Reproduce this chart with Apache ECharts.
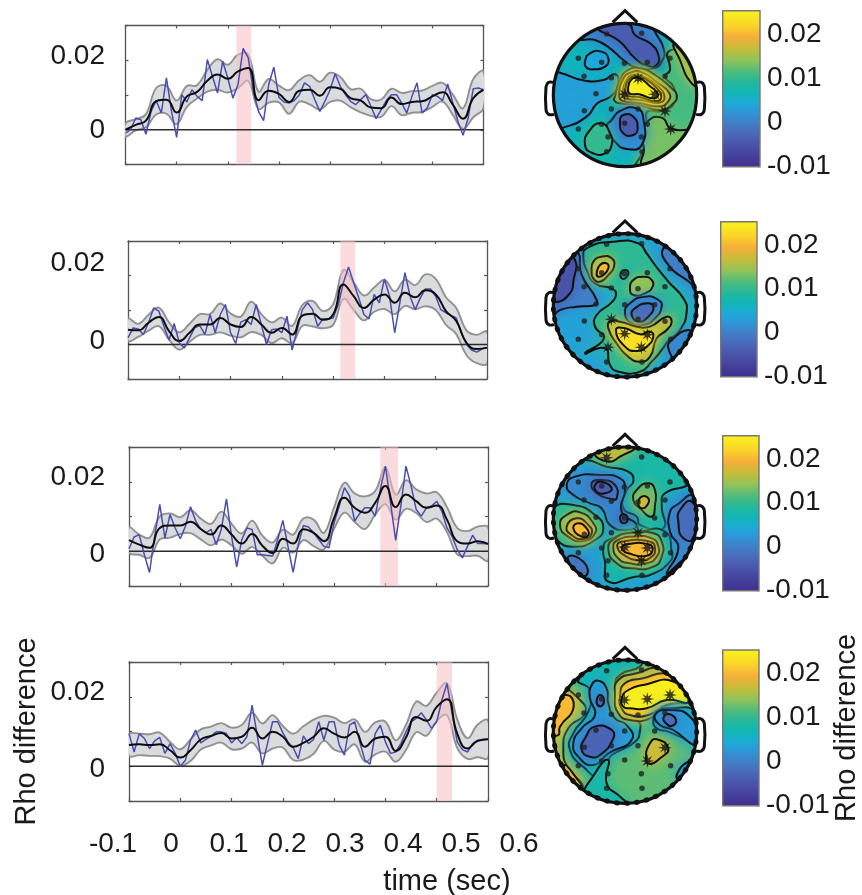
<!DOCTYPE html>
<html><head><meta charset="utf-8">
<style>html,body{margin:0;padding:0;background:#fff}#c{width:862px;height:895px}</style>
<script src="https://cdn.jsdelivr.net/npm/echarts@6/dist/echarts.min.js"></script>
</head><body><div id="c"></div>
<script>
// ---- Time courses (values in units of 0.001 rho) ----
const meanTimes=[-0.1,-0.08,-0.06,-0.04,-0.02,0,0.02,0.04,0.06,0.08,0.1,0.12,0.14,0.16,0.18,0.2,0.22,0.24,0.26,0.28,0.3,0.32,0.34,0.36,0.38,0.4,0.42,0.44,0.46,0.48,0.5,0.52,0.54,0.56,0.58,0.6];
const mean1=[0,1.4,2.6,8.2,8.6,5,9.6,10.9,14.1,15.9,14.7,16.8,17.8,8.5,11.2,10.3,8,11.2,11.5,9.8,12.2,11.8,9.1,8.4,6.4,6.2,9.3,7.4,8,8.2,9.6,10.8,7.2,3.2,9.1,11.5];
const sem1=[1.9,1.6,1.9,3.8,4,3.4,3,1.9,3.1,4.4,4,4.8,3.8,2.5,3.4,2.4,3.4,3.1,4.2,4,4.2,3.4,2.6,3.4,2.4,2.5,2.5,3.2,3.1,3.1,3,2.7,2.9,3,5.5,5.3];
const raw1=[-1,0,3.4,2.9,-1.3,5.3,8.4,4.8,14.9,5.3,-2.2,10.1,8,11.5,9.6,8.4,20.2,15.4,10.6,19.7,14.9,9.1,13,23.4,20.7,11.1,5.3,2.6,13,18,9.3,8,7.7,8.4,10.1,13.5,12.5,8.7,5.3,8.2,11.5,16.1,12.5,10.1,8.2,7.2,8.7,10.1,6.7,3.2,5.8,8.4,10.1,10.1,7.7,4.8,9.6,13.5,4.8,6.3,10.1,9.6,8.4,13.2,7.7,2.4,-1.6,3.4,11.8,12,11.5];
const mean2=[4.3,4.1,6.3,8,3.9,1,3.4,5.8,5.8,7.7,5.8,5.1,8,5.8,3.4,4.8,2.9,8.4,8.9,7.2,8.7,17.4,14,10.6,13,14.5,12.1,15,13.7,15.7,14.5,9.7,6.8,.5,-1.3,-.9];
const sem2=[3.2,1.9,2.3,2.7,2.5,2.5,2.6,3,3,4.2,3.2,3,4.4,3,3,3,2.5,3,3.7,2.5,3,4.2,4,3.6,3.5,4.2,3.3,3.8,3.5,4.6,4.5,4,3.8,3.6,4.1,4.6];
const raw2=[1.9,4.8,4.5,2.9,6.3,10.6,9.7,5.3,1.3,6.1,.5,-1,1.9,4.8,5.5,2.9,8.7,3.4,8.7,11.6,3.4,.3,6.5,7.2,5.8,11.6,5.8,0,4.3,4.5,3.4,8.2,-1.6,4.3,10.1,12.1,10.1,5.3,7.4,7.4,7.7,11.6,17.9,22.5,17.9,13.5,8.7,7.4,14.5,12.1,19,14,3.4,12.1,20.8,14,10.1,13.5,16.1,16.1,14,10.1,9.2,8.4,7.7,3.4,0,-1.6,-2.2,-1.3,-.9];
const mean3=[3.2,1.9,1,6.7,7.4,7.4,8.5,6.4,4.8,7.4,4.8,2.2,5,1.6,-.5,3.6,2.2,6.3,5.3,2.9,9.6,15.4,12.5,11.1,13.9,18.8,12.7,16.3,14.4,12.5,13.2,9.1,2.9,2.2,2.9,2.1];
const sem3=[3.6,2.9,2.9,3.3,3.5,2.4,3.3,3,3.1,4,3.1,2.9,3.8,2.9,3,2.6,2.6,3.1,3.8,2.4,3.1,4.3,4.1,4.7,3.4,5.3,3.6,4.1,3.4,4.1,3.8,3.6,3.8,3.6,4.2,4.8];
const raw3=[.7,4.1,4.8,-1,-6.1,4.3,13.5,3.8,10.6,6.7,3.6,7.2,12.8,8.7,6.3,5.3,6.3,1.9,6.3,15.1,4.3,-4.5,3.4,6.7,6.3,-1,-1,-1.2,-1.4,3.4,8.9,1.4,-6.1,1.9,7.4,7,5.3,3.4,1.4,1,8.2,13,18.3,15.9,8.7,10.9,12.5,12.5,10.1,17.8,24.5,13.9,3.1,13,24.5,18.8,12,10.1,12.5,13,14.4,11.5,6.7,4.3,.5,-1.9,1.4,4.6,2.2,2.2,2.1];
const mean4=[6.1,6.3,6.1,6.3,4.6,2.5,4.6,7.7,8.7,9.6,8,8.5,11.1,8,9.9,8.5,5.6,6.7,8.5,10.9,9.4,8.3,9.9,5.6,8,8.5,4.4,8.3,14.2,13.1,17.1,19.3,9.4,5.1,7.3,7.8];
const sem4=[3.1,3.1,3.1,3.4,2.4,2.4,3.1,2.9,2.7,2.8,3.1,3.4,4.3,4.3,4.8,3.1,3.8,4.8,4.9,3.6,4.6,4.1,3.6,4.3,4.6,4.3,3.1,3.6,4.4,4.3,4.1,4.6,4.1,3,4.7,5.4];
const raw4=[9.4,4.1,9.4,8,5.1,7.3,8.3,3.7,6.5,3.7,0,1.7,7.5,10.4,6.7,7.7,8.7,9.9,9.9,9.4,6.7,8.3,6.5,8.5,17.6,8.9,.3,6.5,12.8,12.8,9.6,7,5.4,2.2,8.7,6.5,7.7,12.8,7.5,12.8,12.8,6.1,3.2,11.8,12.8,7,1.7,.6,9.4,11.8,7,3.7,4.1,6.5,9.9,12.8,13.8,15.4,13.3,10.9,12.8,19,23.8,15.2,7,4.8,4.1,6.5,7.5,7.7,7.8];
const means=[mean1,mean2,mean3,mean4], sems=[sem1,sem2,sem3,sem4], raws=[raw1,raw2,raw3,raw4];
const windowStart=[0.1168,0.314,0.39,0.5];
const windowEnd=[0.146,0.343,0.4247,0.53];
const xTicks=[-0.1,0,0.1,0.2,0.3,0.4,0.5,0.6];
const yTickLabels=[0,0.02];
const cbTicks=[-0.01,0,0.01,0.02];

// ---- Scalp maps: electrode layout and filled contours [level (0.001 rho), x,y, x,y ...], in map units ----
const electrodes=[[200,87],[305,85],[115,160],[185,172],[253,175],[322,172],[390,160],[132,214],[214,218],[294,220],[375,214],[168,266],[254,268],[344,268],[133,317],[214,312],[294,312],[375,318],[115,372],[185,358],[254,355],[322,358],[392,372],[204,396],[304,396],[200,440],[306,440]];
const stars=[[9,12,13,17,22],[15,20,21,23,24],[0,16,20,21,24],[4,5,6,17,21]];
const mapCentreY=[270,271,281,275];
const sheet=[0,0,510,0,510,540,0,540];
const map1=[
 [6.5,sheet],
 [3.3,[30,200,60,203,130,226,190,225,225,208,235,232,215,272,172,295,140,335,70,368,20,375,10,280]],
 [4,[135,170,150,145,185,140,205,160,195,185,160,193,140,188]],
 [1,[120,100,165,105,210,130,250,165,290,188,340,190,365,170,372,135,350,90,325,55,270,30,180,40]],
 [-4,[175,68,240,110,285,160,322,182,350,180,355,150,330,115,285,90,265,58]],
 [11,[385,140,390,195,375,215,400,245,405,290,365,318,322,320,318,350,302,395,310,432,290,490,400,480,490,380,490,230,440,150]],
 [15,[405,110,420,165,455,235,480,240,480,110]],
 [13,[322,350,365,338,395,372,470,378,420,430,345,470,305,480,312,432,305,395]],
 [11,[225,275,240,225,265,195,300,190,345,210,395,250,410,270,400,295,360,315,300,300,240,295,222,285]],
 [15,[238,272,250,222,275,202,305,202,350,232,388,265,382,292,355,304,300,294,250,288]],
 [19,[248,268,262,222,282,210,305,212,345,238,372,268,362,292,300,284,255,280]],
 [23,[256,260,268,222,290,214,312,220,348,248,364,275,348,288,300,276,262,272]],
 [25,[264,254,274,224,298,220,328,242,354,268,340,280,298,268,270,266]],
 [2,[215,345,240,318,290,310,310,340,305,420,260,432,225,410,200,365]],
 [-4,[240,350,250,330,280,335,293,370,280,390,250,385]],
 [10,[135,420,150,375,185,355,210,385,215,420,195,445,160,445]]
];
const map2=[
 [3.5,sheet],
 [9.5,[140,100,220,80,295,85,320,115,345,150,385,200,430,250,440,290,420,345,385,378,365,405,335,440,300,470,235,470,210,450,195,400,135,415,192,370,165,335,170,300,215,262,228,240,218,222,165,205,140,165,130,130]],
 [6,[242,175,253,165,265,172,258,188,245,190]],
 [0,[110,110,125,180,170,255,165,270,110,275,60,285,30,305,10,200,60,130]],
 [-5,[105,135,100,200,90,235,45,262,25,240,40,170,70,130]],
 [0,[370,100,385,150,440,195,470,210,480,120,420,85]],
 [1,[395,375,385,400,410,430,450,370,445,345]],
 [14,[155,170,160,140,185,125,215,130,222,155,205,180,180,200,160,190]],
 [20,[170,175,180,150,200,145,205,160,190,180,175,185]],
 [14,[270,220,280,195,310,185,335,195,338,215,315,235,280,240]],
 [2,[255,295,270,265,315,245,355,255,365,275,345,310,310,330,275,325]],
 [-2,[275,300,285,280,320,265,340,275,325,305,295,320]],
 [16,[205,340,210,320,240,320,290,335,330,335,380,305,395,320,380,345,350,370,330,425,300,440,265,425,230,385]],
 [23,[228,345,255,340,300,358,330,350,340,365,320,395,290,408,255,395]]
];
const map3=[
 [3,sheet],
 [8,[100,125,135,105,200,125,265,140,280,170,260,195,250,250,290,275,300,300,370,310,365,240,375,205,450,170,440,100,350,60,200,50]],
 [16,[165,85,215,70,260,60,290,65,240,95,205,110]],
 [1,[80,180,105,155,180,150,240,160,255,190,245,260,290,300,260,315,210,300,185,250,150,235,100,210]],
 [-1,[155,175,180,165,225,180,230,220,215,222,170,205]],
 [-4,[165,180,185,170,215,190,195,205,170,200]],
 [-6,[240,280,250,268,263,282,252,295]],
 [12,[280,225,290,195,325,175,345,195,345,240,335,275,300,250]],
 [17,[295,235,305,215,325,220,322,240,305,250]],
 [9,[40,250,100,240,165,270,190,310,165,345,100,365,50,345,30,310]],
 [13,[60,300,80,270,120,262,160,295,165,325,130,348,85,335]],
 [17,[80,305,110,280,145,300,155,325,130,342,95,330]],
 [20,[100,310,115,295,140,310,145,330,125,335]],
 [7,[190,370,205,345,300,320,375,320,395,380,390,410,330,450,285,455,205,470,195,410]],
 [10,[205,370,225,340,265,325,340,325,365,350,365,395,340,425,280,430,230,415]],
 [14,[220,365,235,345,280,335,335,340,355,365,350,395,320,415,270,415,235,400]],
 [18,[232,365,245,350,330,350,345,370,335,395,300,405,255,392]],
 [20,[245,370,260,358,325,358,338,375,320,392,265,385]],
 [1,[410,240,460,215,490,330,400,430,380,445,415,370,390,320,390,260]],
 [-2,[415,290,420,255,455,230,480,300,470,340,430,340]],
 [-1,[85,395,130,410,140,450,105,440]]
];
const map4=[
 [12,sheet],
 [15,[60,150,120,180,135,220,85,265,70,330,85,385,130,440,100,450,30,340,20,220]],
 [20,[30,200,80,165,100,205,60,260,55,285,30,280]],
 [19,[75,375,110,415,125,440,85,420]],
 [7,[115,120,190,70,300,60,300,80,240,105,225,140,235,190,250,225,295,245,300,270,285,305,215,345,205,360,170,405,135,385,90,330,100,280,145,215,150,150]],
 [3,[155,135,175,122,200,145,205,190,225,235,260,255,275,300,205,340,160,375,115,350,100,310,125,265,165,225,150,175]],
 [-3,[135,295,165,260,215,270,220,295,180,345,150,350,125,330]],
 [-3,[170,180,180,165,192,180,185,198,173,195]],
 [14,[225,165,235,120,290,100,360,85,395,115,440,160,450,175,370,200,330,235,270,240,235,220]],
 [19,[240,170,255,130,310,115,375,100,410,120,450,180,380,195,325,225,270,225,245,205]],
 [25,[245,175,265,150,310,135,400,125,445,185,380,180,320,205,270,205,250,200]],
 [6,[340,240,350,220,385,205,470,220,490,320,420,290,385,275,350,265]],
 [3,[345,225,385,210,450,230,490,310,470,320,400,270,360,255]],
 [-2,[370,235,385,222,408,240,395,258,378,250]],
 [17,[318,355,330,310,350,298,385,325,360,355,330,372]],
 [3,[410,405,445,365,470,370,440,410,420,420]],
 [8,[165,400,205,360,200,430,240,470,270,500,140,470]]
];
const maps=[map1,map2,map3,map4];
const palette=['#40318f','#443a98','#4a52a8','#4a68b8','#3f80c8','#2e95d8','#1ea9d8','#12b5b8','#1fb8a0','#4cbb7e','#8fc35a','#c5bd3a','#f7ae3a','#fad32a','#f8ee1e','#f8ee1e'];
const paletteStops=[0,.053,.138,.213,.287,.35,.405,.47,.53,.606,.68,.755,.83,.9,.98,1];
const cbMin=-0.0102, cbMax=0.0253;

// ---- Layout ----
const panelRect=[[125.5,25.5,358,139],[128,241,359,138],[129,447,359,139],[129,662,359,139]];
const labelY=[[130,56],[341,263],[554,477],[769,692]]; // hand-placed rows of "0" and "0.02"
const cbRect=[[722.7,10.7,37.3,156],[720.7,221.7,36.3,155],[722.7,435.7,36.3,155],[722.7,650,36.3,155.7]];
const mapTop=[5,215,425,640];

function colourAt(t){
  t=Math.max(0,Math.min(1,t));
  for(let i=1;i<paletteStops.length;i++){
    if(t<=paletteStops[i]){
      const f=(t-paletteStops[i-1])/(paletteStops[i]-paletteStops[i-1]);
      return echarts.color.lerp(f,[palette[i-1],palette[i]]);
    }
  }
  return palette[palette.length-1];
}
const levelColour=m=>colourAt((m/1000-cbMin)/(cbMax-cbMin));

const grids=[],xAxes=[],yAxes=[],series=[];
const TXT='#1a1a1a',FONT='Liberation Sans',FS=28,FRAME='#555';
function grid(r){grids.push({left:r[0],top:r[1],width:r[2],height:r[3],containLabel:false});return grids.length-1;}
const hidden=(g,min,max,extra)=>Object.assign({type:'value',gridIndex:g,min,max,show:false},extra||{});
const rawTimes=Array.from({length:raws[0].length},(_,i)=>+(-0.1+i*0.01).toFixed(2));

means.forEach((mean,p)=>{
  const r=panelRect[p], g=grid(r), lg=grid(r);
  const xa=xAxes.length; 
  const frameAxis=(pos)=>({type:'value',gridIndex:g,min:-0.1,max:0.6,position:pos,
    axisLine:{onZero:false,lineStyle:{color:FRAME,width:1.3}},
    axisTick:{show:true,inside:true,length:3,customValues:xTicks,lineStyle:{color:FRAME,width:1.2}},
    axisLabel:{show:false},splitLine:{show:false}});
  xAxes.push(frameAxis('bottom'),frameAxis('top'));
  const ya=yAxes.length;
  const yFrame=(pos)=>({type:'value',gridIndex:g,min:-0.01,max:0.03,interval:0.01,position:pos,
    axisLine:{onZero:false,lineStyle:{color:FRAME,width:1.3}},
    axisTick:{show:true,inside:true,length:3,lineStyle:{color:FRAME,width:1.2}},
    axisLabel:{show:false},splitLine:{show:false}});
  const left=yFrame('left');
  if(p===3){Object.assign(left,{name:'Rho difference',nameLocation:'middle',nameGap:88,nameRotate:90,nameMoveOverlap:false,
    nameTextStyle:{color:TXT,fontFamily:FONT,fontSize:29}});}
  yAxes.push(left,yFrame('right'));
  // label-only axis: the printed labels are spaced differently from the ticks
  const perUnit=(labelY[p][0]-labelY[p][1])/0.02;
  const lmax=(labelY[p][0]-r[1])/perUnit, lmin=(labelY[p][0]-(r[1]+r[3]))/perUnit;
  xAxes.push(hidden(lg,-0.1,0.6));
  yAxes.push({type:'value',gridIndex:lg,min:lmin,max:lmax,position:'left',
    axisLine:{show:false,onZero:false},axisTick:{show:false},splitLine:{show:false},
    axisLabel:{show:true,customValues:yTickLabels,margin:r[0]-105,color:TXT,fontFamily:FONT,fontSize:FS,
      formatter:v=>String(v)}});
  const base={xAxisIndex:xa,yAxisIndex:ya,silent:true};
  const hi=meanTimes.map((t,i)=>[t,(mean[i]+sems[p][i])/1000]);
  const lo=meanTimes.map((t,i)=>[t,(mean[i]-sems[p][i])/1000]);
  series.push(Object.assign({},base,{type:'custom',z:2,clip:true,data:[[meanTimes[0],0]],
    renderItem:(ps,api)=>({type:'polygon',
      shape:{points:hi.concat(lo.slice().reverse()).map(c=>api.coord(c)),smooth:0.4},
      style:{fill:'#dadbdc',stroke:'#909192',lineWidth:1.9}})}));
  series.push(Object.assign({},base,{type:'custom',z:3,clip:true,data:[[windowStart[p],windowEnd[p]]],
    renderItem:(ps,api)=>{
      const a=api.coord([api.value(0),0.03]),b=api.coord([api.value(1),-0.01]);
      return {type:'rect',shape:{x:a[0],y:a[1],width:b[0]-a[0],height:b[1]-a[1]},style:{fill:'rgba(248,190,195,0.55)'}};
    }}));
  series.push(Object.assign({},base,{type:'line',z:4,symbol:'none',data:[[-0.1,0],[0.6,0]],lineStyle:{color:'#2b2b2b',width:1.7}}));
  series.push(Object.assign({},base,{type:'line',z:5,symbol:'none',data:raws[p].map((v,i)=>[rawTimes[i],v/1000]),lineStyle:{color:'#4a4db0',width:1.5}}));
  series.push(Object.assign({},base,{type:'line',z:6,symbol:'none',smooth:0.5,data:mean.map((v,i)=>[meanTimes[i],v/1000]),lineStyle:{color:'#0d0d0d',width:2}}));

  // ---- scalp map ----
  const mg=grid([540,mapTop[p],170,180]);
  const mx=xAxes.length,my=yAxes.length;
  xAxes.push(hidden(mg,0,510)); yAxes.push(hidden(mg,0,540,{inverse:true}));
  const mbase={xAxisIndex:mx,yAxisIndex:my,silent:true};
  const cy=mapCentreY[p], dy=cy-270;
  const contours=maps[p];
  series.push(Object.assign({},mbase,{type:'custom',z:2,clip:false,
    data:contours.map((c,i)=>[i,0]),
    renderItem:(ps,api)=>{
      const c=contours[ps.dataIndex], pts=[];
      for(let k=0;k<c[1].length;k+=2)pts.push(api.coord([c[1][k],c[1][k+1]]));
      const ctr=api.coord([255,cy]), rad=api.size([215,0])[0], col=levelColour(c[0]);
      return {type:'polygon',shape:{points:pts,smooth:c[1]===sheet?0:0.55},
        clipPath:{type:'circle',shape:{cx:ctr[0],cy:ctr[1],r:rad}},
        style:{fill:col,stroke:'#111',lineWidth:2,shadowBlur:12,shadowColor:col}};
    }}));
  series.push(Object.assign({},mbase,{type:'custom',z:3,clip:false,data:[[255,cy]],
    renderItem:(ps,api)=>{
      const c=api.coord([255,cy]), rad=api.size([215,0])[0];
      const pl=(a,smooth)=>({type:'polyline',shape:{points:a.map(q=>api.coord([q[0],q[1]+dy])),smooth},style:{fill:null,stroke:'#111',lineWidth:3}});
      const kids=[
        {type:'circle',shape:{cx:c[0],cy:c[1],r:rad},style:{fill:null,stroke:'#111',lineWidth:3.2}},
        pl([[218,52],[255,17],[292,52]],0),
        pl([[40,232],[26,232],[18,246],[18,314],[26,328],[42,328]],0.4),
        pl([[470,232],[484,232],[493,246],[493,314],[484,328],[468,328]],0.4)
      ];
      if(p>0)kids.push({type:'circle',shape:{cx:c[0],cy:c[1],r:rad},style:{fill:null,stroke:'#111',lineWidth:5,lineDash:[1,9],lineCap:'round'}});
      return {type:'group',children:kids};
    }}));
  const isStar=new Set(stars[p]);
  series.push(Object.assign({},mbase,{type:'scatter',z:4,symbol:'circle',symbolSize:5.5,itemStyle:{color:'#222'},
    data:electrodes.filter((e,i)=>!isStar.has(i)).map(e=>[e[0],e[1]+dy])}));
  series.push(Object.assign({},mbase,{type:'scatter',z:4,symbolSize:14,
    symbol:'path://M0 -10L1.4 -3.4L7 -7L3.4 -1.4L10 0L3.4 1.4L7 7L1.4 3.4L0 10L-1.4 3.4L-7 7L-3.4 1.4L-10 0L-3.4 -1.4L-7 -7L-1.4 -3.4Z',
    itemStyle:{color:'#111'},data:stars[p].map(i=>[electrodes[i][0],electrodes[i][1]+dy])}));

  // ---- colour bar ----
  const cg=grid(cbRect[p]);
  const cx=xAxes.length,cyA=yAxes.length;
  xAxes.push(hidden(cg,0,1));
  yAxes.push({type:'value',gridIndex:cg,min:cbMin,max:cbMax,position:'right',
    axisLine:{show:false,onZero:false},splitLine:{show:false},
    axisTick:{show:true,inside:true,length:3,customValues:cbTicks,lineStyle:{color:'#333',width:1.3}},
    axisLabel:{show:true,customValues:cbTicks,margin:7,padding:[0,0,12,0],color:TXT,fontFamily:FONT,fontSize:FS,formatter:v=>String(v)}});
  series.push({type:'custom',xAxisIndex:cx,yAxisIndex:cyA,silent:true,z:2,clip:false,data:[[0,cbMin]],
    renderItem:(ps,api)=>{
      const a=api.coord([0,cbMax]),b=api.coord([1,cbMin]);
      return {type:'rect',shape:{x:a[0],y:a[1],width:b[0]-a[0],height:b[1]-a[1]},
        style:{stroke:'#777',lineWidth:1.4,fill:{type:'linear',x:0,y:1,x2:0,y2:0,
          colorStops:palette.map((c,i)=>({offset:paletteStops[i],color:c}))}}};
    }});
  if(p===3){
    // the right-hand title sits on its own axis so it cannot disturb the colour-bar labels
    const ng=grid(cbRect[p]);
    xAxes.push(hidden(ng,0,1));
    yAxes.push({type:'value',gridIndex:ng,min:cbMin,max:cbMax,position:'right',
      axisLine:{show:false,onZero:false},axisTick:{show:false},axisLabel:{show:false},splitLine:{show:false},
      name:'Rho difference',nameLocation:'middle',nameGap:88,nameRotate:90,
      nameTextStyle:{color:TXT,fontFamily:FONT,fontSize:29}});
  }
});

// shared time labels, printed wider than the ticks they belong to
const tg=grid([113,820,406,2]);
xAxes.push({type:'value',gridIndex:tg,min:-0.1,max:0.6,position:'bottom',
  axisLine:{show:false,onZero:false},axisTick:{show:false},splitLine:{show:false},
  axisLabel:{show:true,customValues:xTicks,margin:8,color:TXT,fontFamily:FONT,fontSize:FS,formatter:v=>String(v)}});
yAxes.push(hidden(tg,0,1));

const chart=echarts.init(document.getElementById('c'),null,{renderer:'canvas'});
chart.setOption({animation:false,backgroundColor:'#fff',
  title:{text:'time (sec)',left:447,top:867,textAlign:'center',padding:0,
    textStyle:{color:TXT,fontFamily:FONT,fontSize:29,fontWeight:'normal'}},
  grid:grids,xAxis:xAxes,yAxis:yAxes,series});
</script></body></html>
